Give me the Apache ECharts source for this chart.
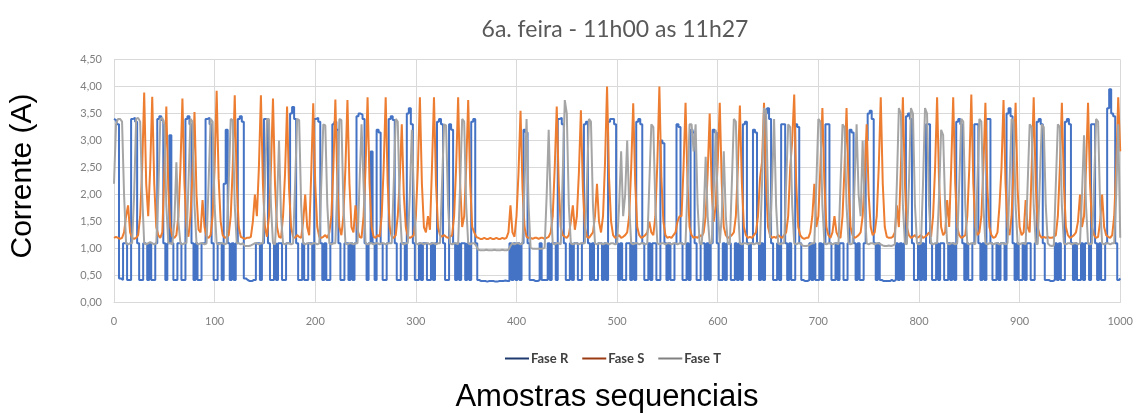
<!DOCTYPE html>
<html>
<head>
<meta charset="utf-8">
<script src="https://cdn.jsdelivr.net/npm/echarts@6/dist/echarts.min.js"></script>
<style>
  html, body { margin: 0; padding: 0; background: #ffffff; }
  #chart { width: 1136px; height: 414px; }
</style>
</head>
<body>
<div id="chart"></div>
<script>
// Samples are read every 2 samples; each inner block covers 100 samples.
const SAMPLE_STEP = 2;
const BLOCK = 100;
const seriesNames = ['Fase R', 'Fase S', 'Fase T'];
const xTicks = [0, 100, 200, 300, 400, 500, 600, 700, 800, 900, 1000];
const yTicks = [0, 0.5, 1, 1.5, 2, 2.5, 3, 3.5, 4, 4.5];

const faseR = [
  [3.4,3.38,3.3,.45,.42,1.1,1.1,.42,.42,3.4,
   3.42,3.35,1.1,.42,.42,1.1,1.08,.42,1.1,.42,
   .42,1.1,3.4,3.45,3.38,1.1,.42,1.1,3.1,1.1,
   .42,.42,1.1,1.1,.42,.42,3.4,3.45,3.3,1.1,
   .42,1.1,.42,.42,1.1,1.1,3.4,3.42,3.3,1.1],
  [.42,.42,1.1,1.1,.42,2.2,3.2,1.1,.42,1.1,
   .42,1.1,3.4,3.45,3.35,.45,.42,.4,.4,.42,
   .42,1.1,1.1,.42,1.1,3.4,3.38,1.1,.42,.42,
   1.1,.42,1.1,1.1,.42,.42,1.1,1.1,3.5,3.62,
   3.4,1.1,.42,.42,1.1,.42,.42,1.1,1.1,.42],
  [3.4,3.42,3.35,1.1,.42,1.1,.42,.42,1.1,3.3,
   3.35,3.2,1.1,.42,.42,1.1,1.1,.42,1.1,.42,
   1.1,3.45,3.5,3.48,3.4,1.1,.42,1.1,2.8,1.1,
   .42,3.2,3.15,1.1,.42,.42,1.1,3.4,3.45,3.38,
   1.1,.42,.42,1.1,1.1,.42,3.5,3.6,3.3,1.1],
  [.42,.42,1.1,.42,1.1,1.1,.42,.42,1.1,.42,
   1.1,3.35,3.4,3.3,1.1,.42,.42,3.3,3.2,1.1,
   .42,1.1,.42,1.1,1.1,.42,1.1,.42,3.35,3.4,
   1.1,.42,.4,.4,.4,.39,.4,.4,.4,.39,
   .39,.4,.4,.4,.41,.4,.4,1.1,.42,1.1],
  [.42,1.1,.42,1.1,3.2,3.15,1.1,.42,.42,.4,
   .4,.42,1.1,.42,.42,.42,1.1,.42,1.1,1.1,
   .42,3.4,3.42,3.3,1.1,.42,.42,1.1,.42,1.1,
   1.1,.42,.42,1.1,3.3,3.35,1.1,.42,1.1,.42,
   .42,1.1,1.1,.42,1.1,.42,3.35,3.4,3.4,3.3],
  [1.1,.42,1.1,.42,.42,1.1,1.1,.42,1.1,.42,
   3.35,3.4,3.3,1.1,.42,.42,1.1,.42,1.1,1.1,
   .42,.42,3.0,2.95,1.1,.42,1.1,.42,.42,1.1,
   3.3,3.25,1.1,.42,.42,1.1,.42,3.2,3.15,1.1,
   .42,.42,1.1,1.1,.42,1.1,.42,1.1,3.2,3.15],
  [1.1,.42,.42,1.1,.42,1.1,1.1,.42,.42,1.1,
   .42,1.1,.42,3.3,3.35,1.1,.42,1.1,3.2,3.15,
   1.1,.42,1.1,.42,3.5,3.6,3.4,1.1,.42,.42,
   1.1,.42,3.3,3.3,1.1,.42,1.1,.42,.42,3.3,
   3.25,1.1,.42,.4,.4,.42,1.1,.42,1.1,.42],
  [.42,1.1,.42,1.1,3.3,3.3,1.1,.42,.42,1.1,
   .42,1.1,1.1,.42,.42,1.1,3.2,3.15,1.1,.42,
   1.1,.42,.42,1.1,3.0,3.5,3.55,3.4,1.1,.42,
   1.1,.42,.4,.4,.4,.4,.42,.4,.42,1.1,
   .42,1.1,.42,1.1,3.45,3.5,3.4,1.1,.42,.42],
  [1.1,.42,1.1,.42,3.3,3.3,1.1,.42,.42,1.1,
   .42,1.1,1.1,.42,.42,1.1,.42,1.1,.42,3.35,
   3.4,3.3,1.1,.42,1.1,.42,.42,1.1,3.3,3.3,
   1.1,.42,1.1,.42,3.4,3.4,1.1,.42,.42,1.1,
   .42,1.1,1.1,.42,3.5,3.6,3.45,1.1,.42,1.1],
  [.42,.42,1.1,.42,1.1,1.1,.42,.42,1.1,3.35,
   3.4,3.3,1.1,.42,.42,.4,.4,.42,1.1,.42,
   1.1,.42,.42,3.35,3.4,3.3,1.1,.42,1.1,.42,
   .42,1.1,.42,1.1,1.1,.42,3.3,3.3,1.1,.42,
   1.1,.42,.42,1.1,3.6,3.95,3.5,3.45,1.1,.42,
   .45]
];

const faseS = [
  [1.2,1.22,1.2,1.18,1.2,1.3,1.6,1.8,1.3,1.2,
   1.18,1.2,1.25,1.6,2.5,3.89,2.2,1.6,2.5,3.81,
   2.2,1.4,1.25,1.2,1.3,2.4,3.63,2.1,1.4,1.22,
   1.2,1.25,1.6,2.5,3.78,2.2,1.4,1.22,1.6,2.4,
   3.53,2.0,1.35,1.3,1.9,1.4,1.22,1.2,1.25,1.6],
  [2.5,3.92,2.3,1.5,1.25,1.2,1.22,1.25,1.6,2.5,
   3.84,2.2,1.4,1.22,1.2,1.18,1.2,1.2,1.22,1.5,
   2.0,1.6,2.5,3.84,2.2,1.4,1.22,1.6,2.5,3.78,
   2.2,1.4,1.22,1.2,1.6,2.4,3.63,2.1,1.4,1.22,
   1.2,1.25,1.22,1.2,1.5,2.0,1.4,1.25,2.4,3.69],
  [2.2,1.4,1.22,1.2,1.22,1.25,1.2,1.3,1.6,2.5,
   3.76,2.2,1.4,1.25,1.6,2.5,3.75,2.2,1.4,1.3,
   1.8,1.35,1.22,1.2,1.6,2.5,3.8,2.2,1.4,1.22,
   1.2,1.25,1.22,1.6,2.5,3.8,2.2,1.4,1.22,1.2,
   1.25,1.6,2.3,3.3,2.0,1.4,1.22,1.2,1.22,1.25],
  [1.6,2.5,3.8,2.2,1.4,1.3,1.6,1.35,2.5,3.8,
   2.2,1.4,1.25,1.22,1.25,1.22,1.2,1.22,1.25,1.6,
   2.5,3.8,2.2,1.4,1.6,2.5,3.75,2.2,1.4,1.3,
   1.22,1.2,1.18,1.18,1.2,1.18,1.18,1.2,1.18,1.18,
   1.2,1.18,1.18,1.2,1.18,1.2,1.3,1.8,1.3,1.22],
  [1.6,2.4,3.55,2.1,1.4,1.22,1.2,1.2,1.18,1.2,
   1.2,1.18,1.2,1.2,1.18,1.2,1.22,1.3,1.6,2.5,
   3.63,2.2,1.4,1.25,1.22,1.2,1.25,1.5,1.8,1.35,
   1.6,2.4,3.56,2.1,1.4,1.22,1.2,1.25,1.3,1.6,
   2.2,1.5,1.3,1.6,2.6,4.0,2.3,1.5,1.25,1.2],
  [1.22,1.25,1.2,1.22,1.25,1.3,1.6,2.5,3.69,2.2,
   1.4,1.25,1.2,1.22,1.25,1.3,1.5,1.3,1.25,1.6,
   2.6,4.0,2.3,1.5,1.25,1.2,1.22,1.2,1.25,1.3,
   1.5,1.6,1.6,2.5,3.7,2.2,1.4,1.25,1.2,1.22,
   1.2,1.25,1.22,1.3,1.6,2.4,3.5,2.1,1.5,1.8],
  [2.6,3.7,2.2,1.4,1.25,1.2,1.22,1.25,1.3,1.6,
   2.5,3.65,2.2,1.4,1.25,1.2,1.22,1.2,1.25,1.3,
   1.6,2.3,2.6,3.7,2.2,1.4,1.25,1.2,1.22,1.2,
   1.25,1.22,1.2,1.25,1.3,1.6,2.5,3.0,3.85,2.2,
   1.4,1.25,1.2,1.18,1.2,1.2,1.3,1.6,2.2,1.4],
  [1.6,2.5,3.6,2.2,1.4,1.25,1.2,1.3,1.6,1.3,
   1.22,1.2,1.6,2.5,3.6,2.2,1.4,1.25,1.2,1.22,
   1.25,1.3,1.6,2.3,3.3,2.0,1.4,1.25,1.3,1.6,
   2.5,3.8,2.2,1.4,1.22,1.2,1.2,1.22,1.3,1.8,
   1.4,2.5,3.8,2.2,1.4,1.25,1.2,1.22,1.25,1.2],
  [1.22,1.25,1.2,1.22,1.25,1.3,1.22,1.6,2.5,3.8,
   2.2,1.4,1.25,1.3,1.9,1.4,2.5,3.8,2.2,1.4,
   1.25,1.2,1.22,1.25,1.6,2.5,3.85,2.2,1.4,1.25,
   1.3,1.6,2.5,3.7,2.1,1.4,1.25,1.2,1.22,1.3,
   1.8,2.5,3.75,2.2,1.4,1.25,1.6,2.5,3.7,2.1],
  [1.4,1.25,1.3,1.9,1.4,1.3,2.5,3.8,2.2,1.4,
   1.25,1.2,1.22,1.2,1.22,1.2,1.2,1.22,1.25,1.6,
   2.5,3.7,2.2,1.4,1.25,1.2,1.22,1.25,1.3,1.5,
   2.0,1.4,1.6,2.5,3.7,2.2,1.4,1.25,1.2,1.22,
   1.5,2.0,1.4,1.25,1.22,1.2,1.25,1.6,2.5,3.8,
   2.8]
];

const faseT = [
  [2.2,3.3,3.4,3.4,3.35,2.0,1.1,1.08,1.1,1.1,
   2.0,3.4,3.42,3.35,2.0,1.1,1.08,1.1,1.12,1.1,
   1.08,1.1,2.0,3.4,3.42,3.3,1.8,1.1,1.1,1.08,
   1.5,2.6,1.5,1.1,1.08,1.1,1.1,2.2,3.4,3.35,
   1.8,1.1,1.08,1.1,1.1,1.08,1.1,2.2,3.4,3.35],
  [1.8,1.1,1.08,1.1,1.1,1.08,1.1,2.2,3.4,3.38,
   1.8,1.1,1.1,1.08,1.1,1.05,1.05,1.05,1.06,1.08,
   1.1,1.1,1.08,1.1,1.1,2.2,3.4,3.4,1.8,1.1,
   1.08,1.8,3.0,1.6,1.1,1.08,1.1,1.1,1.08,1.1,
   2.2,3.4,3.38,1.8,1.1,1.08,1.1,1.1,1.08,1.1],
  [1.1,1.08,1.1,2.2,3.3,3.28,1.8,1.1,1.08,1.1,
   1.1,2.2,3.4,3.38,1.8,1.1,1.08,1.1,1.1,1.08,
   1.1,1.1,2.2,3.3,2.2,1.1,1.08,1.1,1.1,1.08,
   1.1,1.1,1.08,1.1,1.1,1.08,1.1,1.1,1.1,2.2,
   3.4,3.35,1.8,1.1,1.08,1.1,1.1,2.0,3.2,2.0],
  [1.1,1.08,1.1,1.1,1.08,1.1,1.1,1.08,1.1,1.1,
   1.08,1.1,1.1,2.2,3.3,3.28,1.8,1.1,1.08,1.1,
   1.1,1.08,2.2,3.4,3.35,1.8,1.1,1.08,1.1,1.1,
   1.05,.98,.97,.97,.97,.98,.97,.97,.97,.98,
   .97,.97,.97,.98,.97,.97,.98,1.05,1.1,1.08],
  [1.1,1.1,1.08,1.1,2.2,3.4,1.8,1.02,1.0,1.0,
   1.0,1.0,1.0,1.0,1.02,2.0,3.2,1.8,1.1,1.08,
   1.1,1.1,1.08,2.4,3.75,3.5,1.8,1.1,1.08,1.1,
   1.1,1.08,1.1,1.1,1.1,2.2,3.4,3.35,1.8,1.1,
   1.08,1.1,1.1,1.08,1.1,1.1,1.08,1.1,1.1,1.08],
  [1.1,1.8,2.8,1.6,2.0,3.0,1.8,1.1,1.08,1.1,
   1.1,1.08,1.1,1.1,1.08,1.1,2.2,3.3,3.25,1.8,
   1.1,1.08,1.1,1.1,1.08,1.1,1.1,1.08,1.1,1.1,
   1.08,1.1,1.1,1.08,1.1,2.2,3.3,3.3,2.8,3.3,
   1.8,1.1,1.08,1.6,2.7,1.6,1.1,1.1,2.0,3.2],
  [1.8,1.1,1.6,2.8,1.6,1.1,1.08,2.2,3.4,3.35,
   1.8,1.1,1.08,1.1,1.1,1.08,1.1,1.1,1.08,1.1,
   1.1,1.08,2.2,3.6,3.55,2.0,1.2,2.2,3.4,1.8,
   1.1,1.08,1.1,1.1,2.2,3.3,3.25,1.8,1.1,1.08,
   1.1,1.1,1.06,1.05,1.05,1.06,1.08,1.1,1.1,2.2],
  [3.4,3.35,1.8,1.1,1.08,1.1,1.1,1.08,1.1,1.1,
   1.08,2.2,3.3,3.25,1.8,1.1,1.08,1.1,2.2,3.3,
   2.0,1.6,3.0,1.8,1.1,1.08,1.1,1.1,1.08,1.1,
   1.1,1.08,1.06,1.05,1.05,1.06,1.05,1.06,1.08,2.2,
   3.6,3.5,1.8,1.1,1.08,2.2,3.6,3.5,1.8,1.1],
  [1.08,1.1,2.2,3.6,3.5,1.8,1.1,1.08,1.1,1.1,
   2.0,3.2,3.1,1.8,1.1,1.08,1.1,1.1,1.08,1.1,
   2.2,3.4,3.35,1.8,1.1,1.08,1.1,1.1,1.08,2.2,
   3.4,3.35,1.8,1.1,1.08,1.1,1.1,1.08,1.1,1.1,
   1.08,1.1,1.1,1.08,1.1,2.2,3.4,3.35,1.8,1.1],
  [1.08,1.1,1.1,1.08,2.2,3.3,3.25,1.8,1.1,1.08,
   2.2,3.3,3.25,1.8,1.1,1.06,1.05,1.06,2.2,3.3,
   3.25,1.8,1.1,1.08,1.1,1.1,1.08,1.1,1.1,1.08,
   1.1,2.0,3.1,1.8,1.1,1.08,1.1,2.2,3.4,3.35,
   1.8,1.1,1.08,1.1,1.1,1.08,1.1,1.1,2.0,3.3,
   1.2]
];

function toPoints(blocks) {
  const pts = [];
  blocks.forEach(function (blk, b) {
    blk.forEach(function (v, i) { pts.push([b * BLOCK + i * SAMPLE_STEP, v]); });
  });
  return pts;
}

const lineColors = ['#4472C4', '#ED7D31', '#A5A5A5'];
const legendColors = ['#1F3A6E', '#9A3A12', '#808080'];
const lineSteps = ['middle', false, false];
const seriesData = [faseR, faseS, faseT];

const chart = echarts.init(document.getElementById('chart'), null, { renderer: 'canvas' });
chart.setOption({
  animation: false,
  backgroundColor: '#ffffff',
  title: {
    text: '6a. feira - 11h00 as 11h27',
    left: 610,
    textAlign: 'center',
    top: 13,
    textStyle: { fontFamily: 'Lato', fontSize: 23, fontWeight: 'normal', color: '#595959' }
  },
  grid: { left: 114, right: 13, top: 59.5, bottom: 111.3, containLabel: false },
  legend: {
    left: 500,
    top: 347,
    icon: 'rect',
    itemWidth: 24,
    itemHeight: 2,
    itemGap: 14,
    textStyle: { fontFamily: 'Lato', fontSize: 13, fontWeight: 'bold', color: '#404040', padding: [0, 0, 0, -3] },
    data: seriesNames.map(function (n, i) { return { name: n, itemStyle: { color: legendColors[i] } }; })
  },
  xAxis: {
    type: 'value',
    min: xTicks[0],
    max: xTicks[xTicks.length - 1],
    interval: xTicks[1] - xTicks[0],
    axisLine: { show: true, lineStyle: { color: '#d9d9d9', width: 1 } },
    axisTick: { show: false },
    splitLine: { show: true, lineStyle: { color: '#d9d9d9', width: 1 } },
    axisLabel: {
      margin: 13, fontFamily: 'Lato', fontSize: 11, color: '#7f7f7f',
      formatter: function (v) { return String(v); }
    }
  },
  yAxis: {
    type: 'value',
    min: yTicks[0],
    max: yTicks[yTicks.length - 1],
    interval: yTicks[1] - yTicks[0],
    axisLine: { show: false },
    axisTick: { show: false },
    splitLine: { show: true, lineStyle: { color: '#d9d9d9', width: 1 } },
    axisLabel: {
      margin: 12, fontFamily: 'Lato', fontSize: 11, color: '#7f7f7f',
      formatter: function (v) { return v.toFixed(2).replace('.', ','); }
    }
  },
  graphic: [
    {
      type: 'text', x: 23, y: 176, rotation: Math.PI / 2,
      style: { text: 'Corrente (A)', fontFamily: 'Liberation Sans', fontSize: 30, fill: '#000000', textAlign: 'center', textVerticalAlign: 'middle' }
    },
    {
      type: 'text', x: 607, y: 397,
      style: { text: 'Amostras sequenciais', fontFamily: 'Liberation Sans', fontSize: 31, fill: '#000000', textAlign: 'center', textVerticalAlign: 'middle' }
    }
  ],
  series: seriesNames.map(function (n, i) {
    return {
      name: n,
      type: 'line',
      data: toPoints(seriesData[i]),
      step: lineSteps[i],
      showSymbol: false,
      symbol: 'none',
      z: 2 + i,
      lineStyle: { color: lineColors[i], width: 2 },
      itemStyle: { color: lineColors[i] }
    };
  })
});
</script>
</body>
</html>
